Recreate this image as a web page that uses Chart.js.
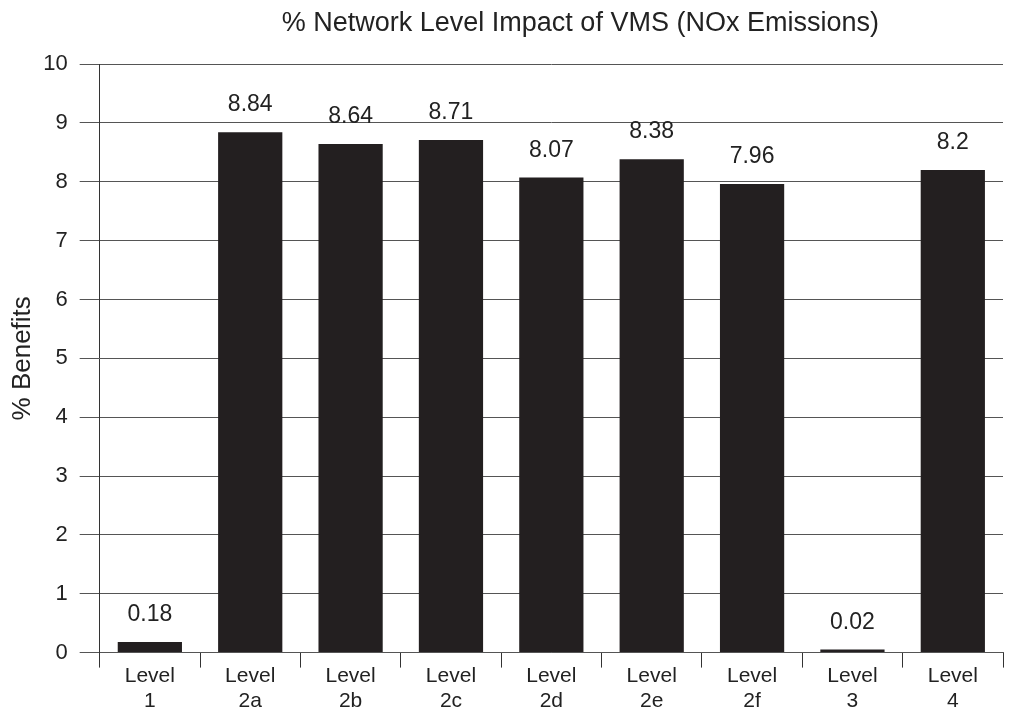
<!DOCTYPE html>
<html>
<head>
<meta charset="utf-8">
<script src="https://cdn.jsdelivr.net/npm/chart.js@4"></script>
<style>
    html, body { margin: 0; padding: 0; background: #fff; }
    #wrap { width: 1018px; height: 713px; }
</style>
</head>
<body>
<div id="wrap"><canvas id="chart"></canvas></div>
<script>
var categories = [['Level', '1'], ['Level', '2a'], ['Level', '2b'], ['Level', '2c'], ['Level', '2d'],
                  ['Level', '2e'], ['Level', '2f'], ['Level', '3'], ['Level', '4']];
var benefitValues = [0.18, 8.84, 8.64, 8.71, 8.07, 8.38, 7.96, 0.02, 8.2];
var valueLabels = ['0.18', '8.84', '8.64', '8.71', '8.07', '8.38', '7.96', '0.02', '8.2'];
var yTicks = [0, 1, 2, 3, 4, 5, 6, 7, 8, 9, 10];
var chartTitle = '% Network Level Impact of VMS (NOx Emissions)';

/**
 * Draws the value above each bar and the title above the plot
 */
var valueLabelPlugin = {
    id: 'valueLabels',
    afterDatasetsDraw: function(chart) {
        var ctx = chart.ctx;
        var meta = chart.getDatasetMeta(0);
        var area = chart.chartArea;
        ctx.save();
        ctx.font = '23px "Liberation Sans", Arial, sans-serif';
        ctx.fillStyle = '#222';
        ctx.textAlign = 'center';
        ctx.textBaseline = 'alphabetic';
        meta.data.forEach(function(bar, i) {
            ctx.fillText(valueLabels[i], bar.x, bar.y - 21);
        });
        ctx.font = '27px "Liberation Sans", Arial, sans-serif';
        ctx.fillText(chartTitle, (area.left + area.right) / 2 + 29, 31);
        ctx.restore();
    }
};

Chart.defaults.font.family = '"Liberation Sans", Arial, sans-serif';
Chart.defaults.color = '#222';

new Chart(document.getElementById('chart').getContext('2d'), {
    type: 'bar',
    data: {
        labels: categories,
        datasets: [{
            data: benefitValues,
            backgroundColor: '#231f20',
            borderWidth: 0,
            minBarLength: 3,
            categoryPercentage: 1,
            barPercentage: 0.64
        }]
    },
    options: {
        responsive: true,
        maintainAspectRatio: false,
        animation: false,
        layout: { padding: { left: 5, right: 15, top: 64, bottom: 3 } },
        plugins: {
            legend: { display: false },
            tooltip: { enabled: false },
            title: { display: false }
        },
        scales: {
            x: {
                offset: true,
                grid: {
                    offset: true,
                    drawOnChartArea: false,
                    drawTicks: true,
                    tickLength: 15,
                    color: '#333',
                    lineWidth: 1
                },
                border: { display: true, color: '#555', width: 1 },
                ticks: {
                    font: { size: 21, lineHeight: 1.2 },
                    color: '#222',
                    padding: -4,
                    maxRotation: 0
                }
            },
            y: {
                min: 0,
                max: 10,
                afterBuildTicks: function(scale) {
                    scale.ticks = yTicks.map(function(v) { return { value: v }; });
                },
                grid: {
                    color: '#555',
                    lineWidth: 1,
                    tickLength: 20
                },
                border: { display: true, color: '#333', width: 1 },
                ticks: {
                    font: { size: 22 },
                    color: '#222',
                    padding: 12
                },
                title: {
                    display: true,
                    text: '% Benefits',
                    font: { size: 26 },
                    color: '#222',
                    padding: { top: 2, bottom: -7 }
                }
            }
        }
    },
    plugins: [valueLabelPlugin]
});
</script>
</body>
</html>
